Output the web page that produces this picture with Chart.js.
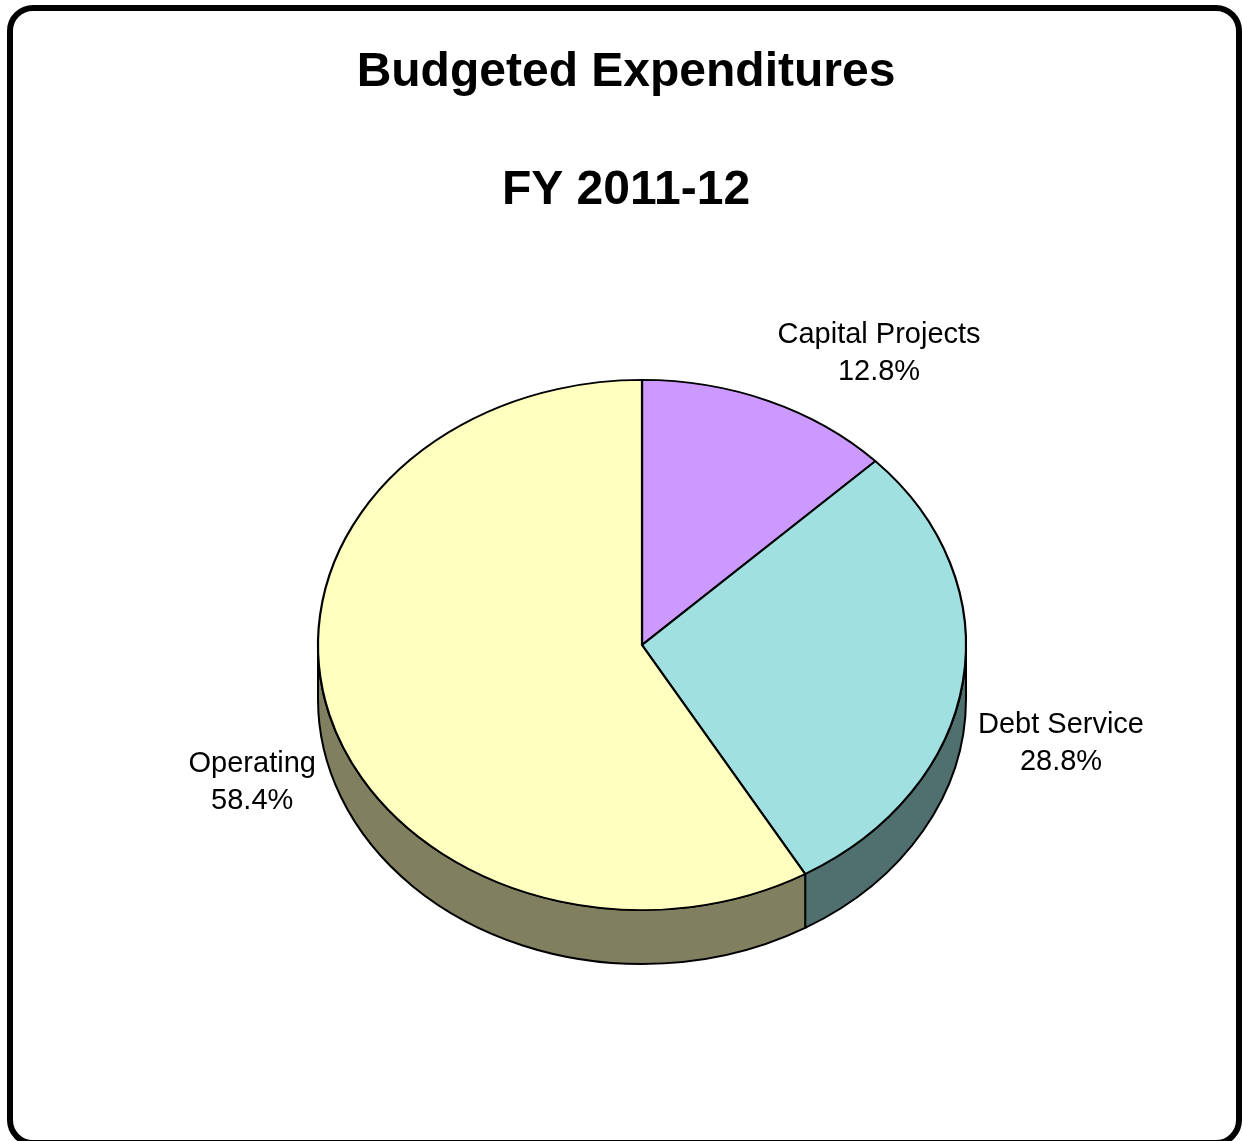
<!DOCTYPE html>
<html>
<head>
<meta charset="utf-8">
<title>Budgeted Expenditures FY 2011-12</title>
<script src="https://cdn.jsdelivr.net/npm/chart.js@4/dist/chart.umd.min.js"></script>
<style>
  html, body { margin: 0; padding: 0; background: #fff; overflow: hidden; }
  #wrap { position: relative; width: 1242px; height: 1141px; }
  #frame {
    position: absolute; left: 7px; top: 5px; width: 1235px; height: 1141px;
    border: 6px solid #000; border-radius: 26px; box-sizing: border-box;
  }
  canvas { position: absolute; left: 0; top: 0; }
</style>
</head>
<body>
<div id="wrap">
  <div id="frame"></div>
  <canvas id="pieChart"></canvas>
</div>
<script>
'use strict';

const titleLines = ['Budgeted Expenditures', 'FY 2011-12'];
const categories = ['Capital Projects', 'Debt Service', 'Operating'];
const shares = [12.8, 28.8, 58.4];
const topColours = ['#CC99FF', '#A0E0E0', '#FFFFC0'];
const sideColours = ['#664C80', '#507070', '#808060'];

// label nudges (px) for the outside labels
const labelShift = [[65, -1], [2, 1], [-2, 1]];

const FONT = '"Liberation Sans", Arial, Helvetica, sans-serif';
const tilt = 0.818;    // vertical squash of the pie top
const depth = 54;      // thickness of the pie wall

function visibleRange(s, e) {
  // part of an arc lying in the front half (0..PI)
  for (const off of [0, -2 * Math.PI, 2 * Math.PI]) {
    const a0 = Math.max(s + off, 0);
    const a1 = Math.min(e + off, Math.PI);
    if (a1 > a0) return [a0, a1];
  }
  return null;
}

// two-line heading, centred on the framed page rather than the pie
const heading = {
  id: 'heading',
  afterDraw(chart) {
    const ctx = chart.ctx;
    ctx.save();
    ctx.font = 'bold 48px ' + FONT;
    ctx.fillStyle = '#000';
    ctx.textAlign = 'center';
    ctx.textBaseline = 'middle';
    titleLines.forEach((t, i) => ctx.fillText(t, 626, 73 + i * 118));
    ctx.restore();
  }
};

const pie3d = {
  id: 'pie3d',
  beforeDatasetsDraw(chart) {
    const ctx = chart.ctx;
    const arcs = chart.getDatasetMeta(0).data;
    const cx = arcs[0].x, cy = arcs[0].y;
    const rx = arcs[0].outerRadius, ry = rx * tilt;

    ctx.save();
    // wall of the pie, drawn first so the top covers it
    arcs.forEach((arc, i) => {
      const r = visibleRange(arc.startAngle, arc.endAngle);
      if (!r) return;
      const [a0, a1] = r;
      ctx.beginPath();
      ctx.ellipse(cx, cy, rx, ry, 0, a0, a1);
      ctx.lineTo(cx + rx * Math.cos(a1), cy + depth + ry * Math.sin(a1));
      ctx.ellipse(cx, cy + depth, rx, ry, 0, a1, a0, true);
      ctx.closePath();
      ctx.fillStyle = sideColours[i];
      ctx.fill();
      ctx.lineWidth = 2;
      ctx.strokeStyle = '#000';
      ctx.lineJoin = 'round';
      ctx.stroke();
    });

    // squash the round pie into an ellipse
    ctx.translate(cx, cy);
    ctx.scale(1, tilt);
    ctx.translate(-cx, -cy);
  },
  afterDatasetsDraw(chart) {
    const ctx = chart.ctx;
    ctx.restore();

    const arcs = chart.getDatasetMeta(0).data;
    const cx = arcs[0].x, cy = arcs[0].y;
    const rx = arcs[0].outerRadius, ry = rx * tilt;
    const gap = 14, lineGap = 36.7, halfH = 37;

    ctx.save();
    ctx.font = '29px ' + FONT;
    ctx.fillStyle = '#000';
    ctx.textAlign = 'center';
    ctx.textBaseline = 'middle';
    arcs.forEach((arc, i) => {
      const lines = [categories[i], shares[i].toFixed(1) + '%'];
      const halfW = Math.max(...lines.map(t => ctx.measureText(t).width)) / 2;
      const mid = (arc.startAngle + arc.endAngle) / 2;
      const c = Math.cos(mid), s = Math.sin(mid);
      const x = cx + (rx + gap + halfW) * c + labelShift[i][0];
      const y = cy + (ry + gap + halfH) * s + (s > 0 ? depth : 0) + labelShift[i][1];
      ctx.fillText(lines[0], x, y - lineGap / 2);
      ctx.fillText(lines[1], x, y + lineGap / 2);
    });
    ctx.restore();
  }
};

const config = {
  type: 'pie',
  data: {
    labels: categories,
    datasets: [{
      data: shares,
      backgroundColor: topColours,
      borderColor: '#000',
      borderWidth: 2.2,
      radius: 324,
      clip: false
    }]
  },
  options: {
    responsive: true,
    maintainAspectRatio: false,
    animation: false,
    events: [],
    layout: { padding: { top: 321, bottom: 172, left: 42, right: 0 } },
    plugins: {
      legend: { display: false },
      tooltip: { enabled: false },
      title: { display: false }
    }
  },
  plugins: [pie3d, heading]
};

const canvas = document.getElementById('pieChart');
const pieChart = new Chart(canvas, config);
</script>
</body>
</html>
